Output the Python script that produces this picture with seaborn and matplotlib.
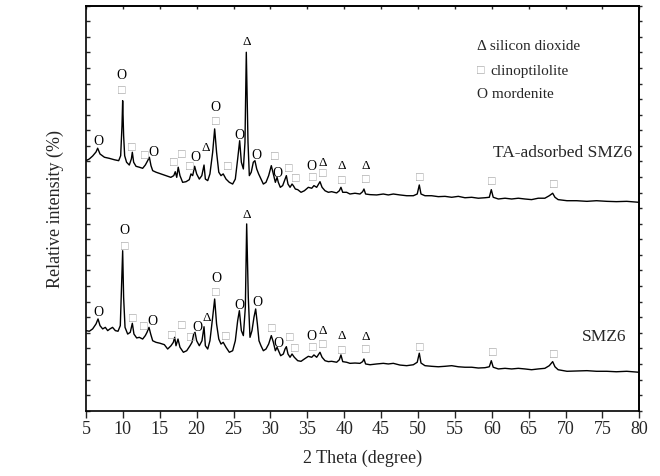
import pandas as pd
import seaborn as sns
import matplotlib.pyplot as plt

# 2 theta (degree) and intensity, TA-adsorbed SMZ6 (upper trace)
ta_theta = [5.0, 5.45, 5.9, 6.36, 6.58, 6.9, 7.5, 8.16, 8.84, 9.43, 9.7, 9.88, 9.97, 10.1, 10.24,
            10.5, 10.87, 11.15, 11.28, 11.46, 11.78, 12.23, 12.68, 13.04, 13.36, 13.59, 13.81,
            14.04, 14.49, 15.17, 15.85, 16.5, 16.9, 17.1, 17.3, 17.5, 17.74, 18.1, 18.56, 19.0,
            19.23, 19.46, 19.73, 20.0, 20.36, 20.7, 21.0, 21.18, 21.5, 21.8, 22.17, 22.44, 22.7,
            23.0, 23.3, 23.6, 23.98, 24.43, 24.88, 25.24, 25.56, 25.83, 26.06, 26.33, 26.55,
            26.73, 26.96, 27.14, 27.4, 27.68, 27.9, 28.14, 28.4, 28.72, 29.04, 29.4, 29.76,
            30.12, 30.4, 30.67, 30.9, 31.07, 31.34, 31.66, 31.98, 32.16, 32.38, 32.66, 32.93,
            33.1, 33.38, 33.7, 34.15, 34.6, 35.14, 35.6, 35.9, 36.27, 36.72, 37.0, 37.4, 37.85,
            38.3, 38.98, 39.34, 39.56, 39.8, 40.33, 40.78, 41.46, 42.14, 42.5, 42.68, 42.9,
            43.5, 44.4, 45.3, 45.98, 46.66, 47.56, 48.47, 49.37, 49.9, 50.18, 50.41, 50.95,
            51.85, 52.76, 53.66, 54.57, 55.47, 56.37, 57.28, 58.18, 59.08, 59.67, 59.94, 60.2,
            60.9, 61.8, 62.7, 63.6, 64.5, 65.4, 66.3, 67.2, 67.8, 68.26, 68.57, 69.0, 70.2,
            71.5, 72.9, 74.2, 75.6, 76.9, 78.3, 79.9]
ta_int = [1605, 1616, 1635, 1661, 1685, 1648, 1627, 1620, 1611, 1605, 1637, 1830, 1990, 1766, 1637,
          1595, 1577, 1616, 1659, 1595, 1569, 1563, 1556, 1577, 1605, 1627, 1573,
          1541, 1531, 1520, 1509, 1498, 1509, 1534, 1498, 1563, 1509, 1466, 1470, 1483,
          1520, 1509, 1569, 1520, 1487, 1509, 1577, 1487, 1477, 1520, 1659, 1809, 1659,
          1531, 1509, 1520, 1487, 1466, 1455, 1487, 1616, 1733, 1595, 1552, 1723,
          2301, 1723, 1509, 1531, 1595, 1605, 1552, 1520, 1487, 1455, 1466, 1509,
          1573, 1520, 1466, 1498, 1466, 1434, 1445, 1487, 1509, 1455, 1434, 1455,
          1445, 1423, 1419, 1402, 1412, 1434, 1428, 1445, 1434, 1470, 1434, 1412, 1402,
          1406, 1398, 1412, 1434, 1402, 1402, 1391, 1396, 1391, 1406, 1423, 1391,
          1387, 1385, 1391, 1385, 1391, 1385, 1380, 1380, 1391, 1449, 1391, 1380,
          1380, 1374, 1376, 1370, 1376, 1367, 1370, 1364, 1367, 1370, 1419, 1370,
          1359, 1364, 1359, 1364, 1359, 1355, 1364, 1364, 1380, 1396, 1370, 1355, 1348,
          1348, 1344, 1348, 1344, 1342, 1344, 1338]

# SMZ6 (lower trace)
smz_theta = [5.0, 5.45, 5.9, 6.36, 6.63, 6.9, 7.26, 7.62, 7.94, 8.25, 8.6, 8.98, 9.34, 9.65, 9.84,
             9.97, 10.1, 10.29, 10.65, 11.0, 11.28, 11.5, 11.87, 12.23, 12.68, 13.04, 13.27,
             13.54, 13.77, 14.04, 14.49, 15.03, 15.62, 16.07, 16.52, 16.84, 17.02, 17.2, 17.47,
             17.74, 18.2, 18.65, 19.1, 19.37, 19.6, 19.78, 20.0, 20.36, 20.72, 21.0, 21.18,
             21.5, 21.8, 22.17, 22.44, 22.7, 23.0, 23.3, 23.6, 23.98, 24.43, 24.88, 25.24,
             25.56, 25.79, 26.06, 26.33, 26.6, 26.78, 27.0, 27.23, 27.5, 27.77, 28.0, 28.23,
             28.45, 28.72, 29.04, 29.4, 29.76, 30.12, 30.4, 30.67, 30.9, 31.1, 31.39, 31.75,
             31.98, 32.16, 32.38, 32.66, 32.93, 33.24, 33.7, 34.15, 34.6, 35.14, 35.6, 35.9,
             36.27, 36.72, 37.0, 37.4, 37.85, 38.3, 38.98, 39.34, 39.56, 39.8, 40.33, 40.78,
             41.46, 42.14, 42.5, 42.68, 42.9, 43.5, 44.4, 45.3, 45.98, 46.66, 47.56, 48.47,
             49.37, 49.9, 50.18, 50.41, 50.95, 51.85, 52.76, 53.66, 54.57, 55.47, 56.37,
             57.28, 58.18, 59.08, 59.67, 59.94, 60.2, 60.9, 61.8, 62.7, 63.6, 64.5, 65.4,
             66.3, 67.2, 67.8, 68.26, 68.57, 69.0, 70.2, 71.5, 72.9, 74.2, 75.6, 76.9, 78.3, 79.9]
smz_int = [514, 510, 525, 557, 589, 546, 525, 535, 514, 525, 535, 514, 510, 546, 835,
           1027, 728, 535, 492, 503, 561, 492, 467, 471, 460, 482, 503,
           535, 492, 449, 439, 433, 424, 396, 417, 439, 471, 417, 460,
           407, 375, 385, 417, 439, 492, 503, 449, 417, 449, 539, 417,
           396, 449, 600, 717, 557, 460, 428, 439, 407, 375, 385, 449,
           578, 642, 514, 482, 664, 1199, 728, 471, 514, 600, 653, 557,
           449, 417, 385, 396, 428, 482, 439, 385, 407, 385, 353, 364,
           396, 411, 364, 343, 364, 343, 321, 317, 332, 349, 343, 358,
           343, 375, 343, 321, 315, 317, 311, 327, 358, 315, 311, 304,
           306, 304, 315, 332, 300, 295, 300, 304, 300, 304, 293, 289,
           295, 311, 369, 306, 289, 285, 282, 285, 289, 282, 279,
           279, 274, 276, 282, 321, 279, 268, 272, 268, 272, 268, 263,
           268, 272, 289, 315, 282, 263, 253, 255, 257, 253, 253, 250, 253, 247]

# phase marks: symbol, 2 theta, height
SIO2, CLINO, MORD = "\u0394", "\u25a1", "O"
ta_mark_sym = [MORD, MORD, CLINO, CLINO, CLINO, MORD, CLINO, CLINO, CLINO, MORD, SIO2, MORD, CLINO,
               CLINO, MORD, SIO2, MORD, CLINO, MORD, CLINO, CLINO, MORD, CLINO, SIO2, CLINO,
               SIO2, CLINO, SIO2, CLINO, CLINO, CLINO, CLINO]
ta_mark_x = [6.67, 9.84, 9.84, 11.2, 13.0, 14.17, 16.84, 18.0, 19.1, 19.9, 21.27, 22.6, 22.6,
             24.15, 25.8, 26.78, 28.1, 30.57, 31.0, 32.47, 33.45, 35.6, 35.8, 37.04, 37.04,
             39.65, 39.65, 42.9, 42.9, 50.27, 60.03, 68.35]
ta_mark_y = [1733, 2155, 2061, 1691, 1642, 1664, 1595, 1648, 1573, 1633, 1691, 1954, 1858,
             1569, 1776, 2375, 1642, 1637, 1531, 1560, 1492, 1577, 1502, 1595, 1524,
             1577, 1483, 1577, 1487, 1502, 1473, 1455]

smz_mark_sym = ta_mark_sym
smz_mark_x = [6.72, 10.2, 10.2, 11.33, 12.77, 13.95, 16.6, 18.0, 19.14, 20.05, 21.36, 22.62, 22.62,
              24.0, 25.8, 26.78, 28.3, 30.17, 31.1, 32.56, 33.33, 35.6, 35.73, 37.08, 37.08,
              39.65, 39.65, 42.95, 42.95, 50.27, 60.07, 68.35]
smz_mark_y = [638, 1162, 1059, 595, 542, 578, 486, 552, 475, 539, 600, 856, 760,
              482, 681, 1263, 702, 529, 435, 475, 404, 482, 411, 518, 428,
              486, 390, 482, 396, 407, 375, 364]

sample_labels = ["TA-adsorbed SMZ6", "SMZ6"]

ta_df = pd.DataFrame({"theta": ta_theta, "intensity": ta_int})
smz_df = pd.DataFrame({"theta": smz_theta, "intensity": smz_int})

sns.set_style("ticks")
plt.rcParams["font.family"] = ["Liberation Serif", "DejaVu Sans"]

fig = plt.figure(figsize=(6.6, 4.77), dpi=100)
ax = fig.add_axes([0.1303, 0.1369, 0.8383, 0.8491])

sns.lineplot(data=ta_df, x="theta", y="intensity", color="black", lw=1.0, ax=ax)
sns.lineplot(data=smz_df, x="theta", y="intensity", color="black", lw=1.0, ax=ax)

mark_color = {SIO2: "black", CLINO: "#a8a8a8", MORD: "black"}
mark_size = {SIO2: 9.5, CLINO: 9, MORD: 10}
for syms, xs, ys in [(ta_mark_sym, ta_mark_x, ta_mark_y), (smz_mark_sym, smz_mark_x, smz_mark_y)]:
    for s, x, y in zip(syms, xs, ys):
        ax.text(x, y, s, ha="center", va="center", color=mark_color[s], fontsize=mark_size[s])

ax.text(60.2, 1659, sample_labels[0], ha="left", va="center", fontsize=12.5)
ax.text(72.2, 482, sample_labels[1], ha="left", va="center", fontsize=12.5)

# legend written as text lines
leg_y = [2343, 2187, 2035]
ax.text(57.96, leg_y[0], SIO2 + " silicon dioxide", ha="left", va="center", fontsize=11)
ax.text(57.96, leg_y[1], CLINO, ha="left", va="center", fontsize=9, color="#a8a8a8")
ax.text(59.8, leg_y[1], "clinoptilolite", ha="left", va="center", fontsize=11)
ax.text(57.96, leg_y[2], "O mordenite", ha="left", va="center", fontsize=11)

ax.set_xlim(5, 80)
ax.set_ylim(0, 2600)
ax.set_xticks(range(5, 81, 5))
ax.set_yticks(range(0, 2601, 100))
ax.set_yticklabels([])
ax.tick_params(axis="x", direction="out", length=5, width=1, labelsize=13, pad=2)
ax.tick_params(axis="y", direction="in", length=3, width=1)
ax.set_xlabel("2 Theta (degree)", fontsize=13, labelpad=8)
ax.set_ylabel("Relative intensity (%)", fontsize=13, labelpad=12)

top = ax.secondary_xaxis("top")
top.set_xticks(range(5, 81, 5))
top.set_xticklabels([])
top.tick_params(direction="in", length=2, width=1)
right = ax.secondary_yaxis("right")
right.set_yticks(range(0, 2601, 100))
right.set_yticklabels([])
right.tick_params(direction="out", length=2, width=1)

for sp in list(ax.spines.values()) + [top.spines["top"], right.spines["right"]]:
    sp.set_linewidth(1.2)
    sp.set_color("black")

fig.savefig("out.png", dpi=100)
